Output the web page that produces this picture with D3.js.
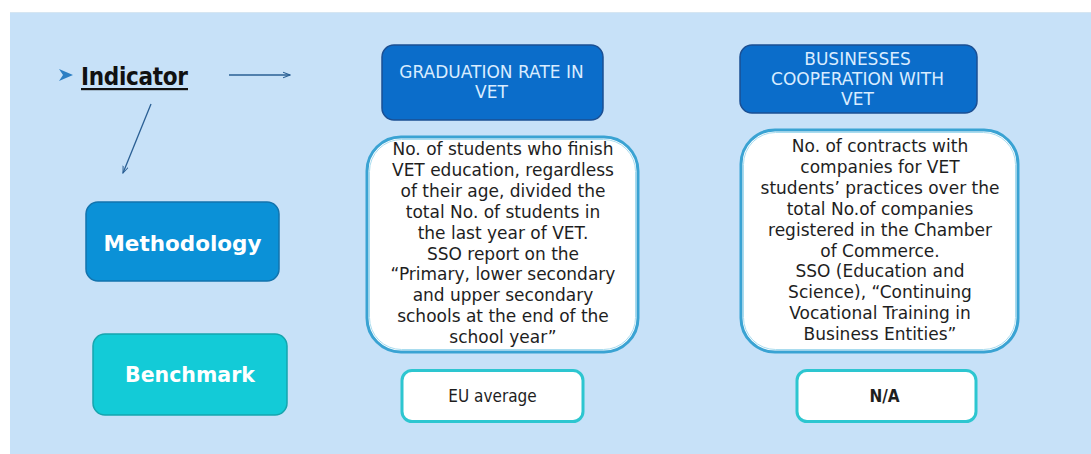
<!DOCTYPE html>
<html><head><meta charset="utf-8">
<script src="https://cdn.jsdelivr.net/npm/d3@7/dist/d3.min.js"></script>
<style>
html,body{margin:0;padding:0;background:#fff;}
svg{display:block;}
</style></head>
<body>
<svg id="c" width="1091" height="454"></svg>
<script>
const rowLabels = ["Indicator", "Methodology", "Benchmark"];
const indicators = [
  ["GRADUATION RATE IN", "VET"],
  ["BUSINESSES", "COOPERATION WITH", "VET"]
];
const methodology = [
  ["No. of students who finish", "VET education, regardless", "of their age, divided the", "total No. of students in", "the last year of VET.", "SSO report on the", "\u201cPrimary, lower secondary", "and upper secondary", "schools at the end of the", "school year\u201d"],
  ["No. of contracts with", "companies for VET", "students\u2019 practices over the", "total No.of companies", "registered in the Chamber", "of Commerce.", "SSO (Education and", "Science), \u201cContinuing", "Vocational Training in", "Business Entities\u201d"]
];
const benchmarks = ["EU average", "N/A"];
const benchmarkBold = [false, true];

const svg = d3.select("#c");
const F = "'DejaVu Sans',sans-serif";
const FC = "'DejaVu Sans Condensed','DejaVu Sans',sans-serif";

// background panel
svg.append("rect").attr("x",10).attr("y",12).attr("width",1081).attr("height",442).attr("fill","#c7e1f8");
svg.append("line").attr("x1",10).attr("x2",1091).attr("y1",12.5).attr("y2",12.5).attr("stroke","#d6e6f2").attr("stroke-width",1);

// column layout: x-extents per element
const header = [{x0:382,x1:603,y0:45,y1:120},{x0:740,x1:977,y0:45,y1:113}];
const desc = [{x0:367,x1:638,y0:137,y1:352},{x0:741,x1:1018,y0:130,y1:352}];
const bench = [{x0:402,x1:583},{x0:797,x1:976}];

// arrow marker
const defs = svg.append("defs");
defs.append("marker").attr("id","ar").attr("viewBox","0 0 10 10").attr("refX",9).attr("refY",5)
  .attr("markerWidth",6).attr("markerHeight",6).attr("orient","auto")
  .append("path").attr("d","M0,1.5 L9,5 L0,8.5").attr("fill","none").attr("stroke","#2a5f94").attr("stroke-width",1.3);

// Indicator label
svg.append("path").attr("d","M59,69 L73,75 L59,81 L63,75 Z").attr("fill","#2c7fc4");
svg.append("text").attr("x",81).attr("y",85).attr("font-family",FC)
  .attr("font-weight","bold").attr("font-size",24).attr("fill","#111").attr("textLength",107)
  .text(rowLabels[0]);
svg.append("rect").attr("x",81).attr("y",88).attr("width",107).attr("height",2.2).attr("fill","#111");

// arrows
svg.append("line").attr("x1",229).attr("y1",75).attr("x2",290).attr("y2",75)
  .attr("stroke","#2a5f94").attr("stroke-width",1.3).attr("marker-end","url(#ar)");
svg.append("line").attr("x1",151).attr("y1",104).attr("x2",123).attr("y2",173)
  .attr("stroke","#2a5f94").attr("stroke-width",1.3).attr("marker-end","url(#ar)");

// row label boxes
const rowBoxes = [
  {x:86,y:202,w:193,h:79,fill:"#0b91d7",stroke:"#1373ad",label:rowLabels[1],ty:251,fs:21.5},
  {x:93,y:334,w:194,h:81,fill:"#13cbd7",stroke:"#16a5ae",label:rowLabels[2],ty:382,fs:20.5}
];
svg.selectAll("g.rb").data(rowBoxes).join("g").attr("class","rb").each(function(d){
  const g = d3.select(this);
  g.append("rect").attr("x",d.x).attr("y",d.y).attr("width",d.w).attr("height",d.h).attr("rx",12)
    .attr("fill",d.fill).attr("stroke",d.stroke).attr("stroke-width",1.5);
  g.append("text").attr("x",d.x+d.w/2).attr("y",d.ty).attr("text-anchor","middle")
    .attr("font-family",F).attr("font-weight","bold").attr("font-size",d.fs).attr("fill","#fff").text(d.label);
});

// columns
indicators.forEach((lines,i)=>{
  const g = svg.append("g");
  const h = header[i];
  g.append("rect").attr("x",h.x0).attr("y",h.y0).attr("width",h.x1-h.x0).attr("height",h.y1-h.y0)
    .attr("rx",12).attr("fill","#0b6dca").attr("stroke","#1b4f93").attr("stroke-width",1.5);
  const lh = 20;
  const hMid = (h.y0+h.y1)/2;
  const hcx = (h.x0+h.x1)/2 - 1;
  g.selectAll("text.h").data(lines).join("text").attr("class","h")
    .attr("x",hcx).attr("y",(d,j)=>hMid + (j-(lines.length-1)/2)*lh + 5.5)
    .attr("text-anchor","middle").attr("font-family",F).attr("font-size",17).attr("fill","#d9ecff").text(d=>d);

  // description box
  const dd = desc[i];
  const dw = dd.x1-dd.x0, dh = dd.y1-dd.y0;
  g.append("rect").attr("x",dd.x0).attr("y",dd.y0).attr("width",dw).attr("height",dh).attr("rx",34)
    .attr("fill","#fff").attr("stroke","#3aa3d3").attr("stroke-width",3);
  g.append("rect").attr("x",dd.x0+2.5).attr("y",dd.y0+2.5).attr("width",dw-5).attr("height",dh-5).attr("rx",32)
    .attr("fill","none").attr("stroke","#a9dcef").attr("stroke-width",1);
  const m = methodology[i];
  const first = i===0 ? 155 : 152;
  const sp = 20.9;
  const dcx = (dd.x0+dd.x1)/2 + 0.5;
  g.selectAll("text.m").data(m).join("text").attr("class","m")
    .attr("x",dcx).attr("y",(d,j)=>first + j*sp)
    .attr("text-anchor","middle").attr("font-family",F).attr("font-size",17).attr("fill","#1e1e1e").text(d=>d);

  // benchmark box
  const b = bench[i];
  const bw = b.x1-b.x0;
  g.append("rect").attr("x",b.x0).attr("y",370.5).attr("width",bw).attr("height",51).attr("rx",10)
    .attr("fill","#fff").attr("stroke","#2dc6d0").attr("stroke-width",3);
  g.append("text").attr("x",b.x0+bw/2 + (i===1?-2:0)).attr("y",402).attr("text-anchor","middle").attr("font-family",FC)
    .attr("font-weight",benchmarkBold[i]?"bold":"normal").attr("font-size",17).attr("fill","#1e1e1e").text(benchmarks[i]);
});
</script>
</body></html>
